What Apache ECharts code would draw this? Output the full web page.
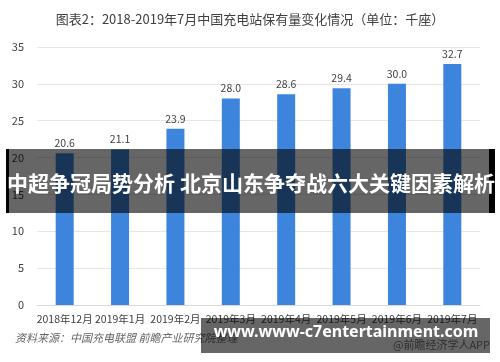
<!DOCTYPE html>
<html><head><meta charset="utf-8">
<script src="https://cdn.jsdelivr.net/npm/echarts@6/dist/echarts.min.js"></script>
<style>html,body{margin:0;padding:0;background:#fff;}#c{width:500px;height:362px;}</style>
</head><body><div id="c"></div>
<script>
const categories = ['2018年12月','2019年1月','2019年2月','2019年3月','2019年4月','2019年5月','2019年6月','2019年7月'];
const values = [20.6, 21.1, 23.9, 28.0, 28.6, 29.4, 30.0, 32.7];
const yTicks = [0, 5, 10, 15, 20, 25, 30, 35];
const titleText = '图表2：2018-2019年7月中国充电站保有量变化情况（单位：千座）';
const sourceText = '资料来源：中国充电联盟 前瞻产业研究院整理';
const creditText = '@前瞻经济学人APP';
const banner1Text = '中超争冠局势分析 北京山东争夺战六大关键因素解析';
const banner2Text = 'www.www-c7entertainment.com';
const font = '"Microsoft YaHei","Noto Sans CJK SC",sans-serif';

const chart = echarts.init(document.getElementById('c'));
chart.setOption({
  animation: false,
  title: { text: titleText, left: 245, top: 8, textAlign: 'center',
    textStyle: { fontSize: 13, fontWeight: 'normal', color: '#404040', fontFamily: font } },
  grid: { left: 37, right: 20, top: 47, bottom: 57 },
  xAxis: { type: 'category', data: categories,
    axisLine: { show: true, lineStyle: { color: '#d9d9d9' } }, axisTick: { show: false },
    axisLabel: { color: '#404040', fontSize: 10.5, margin: 9, interval: 0, fontFamily: font } },
  yAxis: { type: 'value', min: yTicks[0], max: yTicks[yTicks.length-1], interval: 5,
    axisLine: { show: false }, axisTick: { show: false },
    splitLine: { lineStyle: { color: '#e6e6e6' } },
    axisLabel: { color: '#404040', fontSize: 11, margin: 13, fontFamily: font } },
  series: [{ type: 'bar', data: values, barWidth: 18,
    itemStyle: { color: '#3d84dc' },
    label: { show: true, position: 'top', distance: 5, color: '#404040', fontSize: 10.5, fontFamily: font,
      formatter: p => p.value.toFixed(1) } }],
  graphic: [
    { type: 'text', left: 15, top: 332, style: { text: sourceText, fill: '#666', fontSize: 11, fontStyle: 'italic', fontFamily: font } },
    { type: 'text', right: 10, top: 339, style: { text: creditText, fill: '#777', fontSize: 11, fontFamily: font } },
    { type: 'rect', z: 100, shape: { x: 6, y: 149, width: 489, height: 64 }, style: { fill: 'rgba(0,0,0,0.6)' } },
    { type: 'rect', z: 101, shape: { x: 6, y: 149, width: 3, height: 64 }, style: { fill: '#000' } },
    { type: 'rect', z: 101, shape: { x: 489, y: 149, width: 6, height: 64 }, style: { fill: '#000' } },
    { type: 'text', z: 102, x: 251, y: 183, style: { text: banner1Text, fill: '#fff', fontSize: 21, fontWeight: 'bold', fontFamily: font, align: 'center', verticalAlign: 'middle' } },
    { type: 'rect', z: 100, shape: { x: 201, y: 318, width: 289, height: 35 }, style: { fill: 'rgba(0,0,0,0.6)' } },
    { type: 'text', z: 102, x: 346, y: 332, style: { text: banner2Text, fill: '#fff', fontSize: 16, fontWeight: 'bold', fontFamily: '"Noto Sans","Open Sans",sans-serif', align: 'center', verticalAlign: 'middle' } }
  ]
});
</script></body></html>
